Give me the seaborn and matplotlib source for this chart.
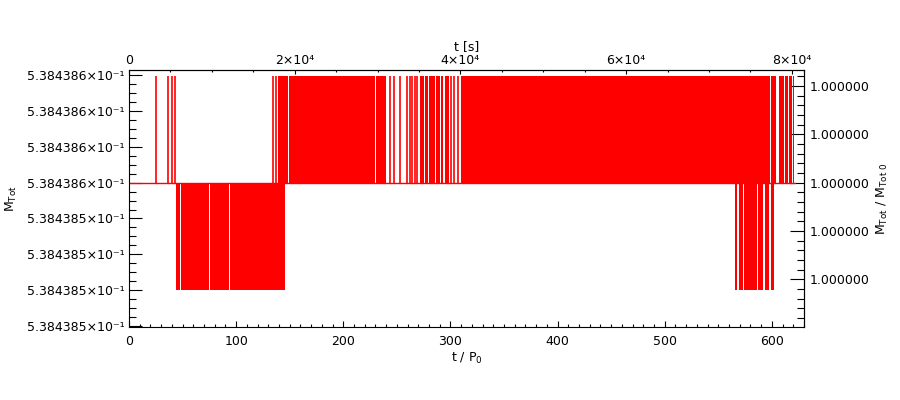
import numpy as np
import pandas as pd
import matplotlib
matplotlib.use("Agg")
import matplotlib.pyplot as plt
import seaborn as sns
from matplotlib.ticker import MultipleLocator, FixedLocator, FuncFormatter

# ******************* values
M0 = 0.53843856      # baseline total mass
dM = 5.96e-8         # one float32 step above / below the baseline
P0 = 129.3           # period in s, t[s] = (t/P0) * P0
t_end = 621.5        # last sample, in t/P0

# single short jumps to the upper level (t / P0)
up_spikes = [25.4, 36.7, 40.4, 43.2, 134.2, 137.3, 243.7, 247.0, 253.2,
             259.6, 261.9, 264.2, 266.8, 268.6, 300.1, 303.5, 306.9]

# stretches where the mass flickers between baseline and upper level
up_start = [139.1, 149.6, 153.5, 230.6, 272.0, 276.0, 280.0, 286.5, 291.5,
            294.5, 309.7, 599.4, 606.6, 612.5, 616.2, 619.4]
up_end = [148.6, 152.7, 229.4, 239.4, 275.0, 279.0, 285.5, 290.5, 293.5,
          298.6, 598.2, 603.6, 611.3, 614.7, 618.5, 620.9]

# stretches where it flickers between baseline and lower level
down_start = [44.3, 48.2, 75.3, 94.3, 565.5, 569.3, 574.0, 587.3, 593.6, 599.4]
down_end = [47.2, 74.4, 93.3, 145.4, 567.7, 572.7, 586.4, 591.4, 597.3, 601.7]

# tick labels of the top axis, in s
top_ticks = [0, 2e4, 4e4, 6e4, 8e4]

# ******************* plot
sns.set_style("ticks")
plt.rcParams["font.family"] = ["DejaVu Sans"]
plt.rcParams["mathtext.default"] = "regular"
plt.rcParams["axes.linewidth"] = 0.8
for key in ["text.color", "axes.labelcolor", "xtick.color", "ytick.color",
            "axes.edgecolor"]:
    plt.rcParams[key] = "black"
fs = 9

fig = plt.figure(figsize=(9, 4), dpi=100)
ax = fig.add_axes([129 / 900, 73 / 400, 675 / 900, 257 / 400])

base = pd.DataFrame({"t": [0, t_end], "M": [M0, M0]})
sns.lineplot(data=base, x="t", y="M", color="red", linewidth=1.0, ax=ax)

ax.bar(up_start, dM, width=np.subtract(up_end, up_start), bottom=M0,
       align="edge", color="red", linewidth=0)
ax.bar(down_start, dM, width=np.subtract(down_end, down_start), bottom=M0 - dM,
       align="edge", color="red", linewidth=0)
ax.vlines(up_spikes, M0, M0 + dM, color="red", linewidth=1.2)

ax.set_xlim(0, 630)
ax.set_ylim(M0 - 8.05e-8, M0 + 6.28e-8)

# bottom axis
ax.xaxis.set_major_locator(MultipleLocator(100))
ax.xaxis.set_minor_locator(MultipleLocator(10))
ax.tick_params(axis="x", which="major", direction="in", length=4, width=0.8,
               labelsize=fs, pad=6, top=False)
ax.tick_params(axis="x", which="minor", direction="in", length=2.2, width=0.8,
               top=False)
ax.set_xlabel("t / P$_0$", fontsize=fs, labelpad=2)

# left axis
ax.yaxis.set_major_locator(MultipleLocator(2e-8))
ax.yaxis.set_minor_locator(MultipleLocator(5e-9))
ax.yaxis.set_major_formatter(FuncFormatter(lambda v, p: f"{v * 10:.6f}×10⁻¹"))
ax.tick_params(axis="y", which="major", direction="in", length=9.5, width=0.8,
               labelsize=fs, pad=3, right=False)
ax.tick_params(axis="y", which="minor", direction="in", length=5, width=0.8,
               right=False)
ax.set_ylabel("M$_{Tot}$", fontsize=fs, labelpad=6)

# top axis in seconds
top = ax.secondary_xaxis("top", functions=(lambda t: t * P0, lambda s: s / P0))
top.xaxis.set_major_locator(FixedLocator(top_ticks))
top.xaxis.set_minor_locator(MultipleLocator(5e3))
top.xaxis.set_major_formatter(FuncFormatter(
    lambda v, p: "0" if abs(v) < 1 else f"{v / 1e4:.0f}×10⁴"))
top.tick_params(which="major", direction="in", length=3, width=0.8,
                labelsize=fs, pad=2)
top.tick_params(which="minor", direction="in", length=1.6, width=0.8)
top.set_xlabel("t [s]", fontsize=fs, labelpad=3)

# right axis relative to the initial mass
right = ax.secondary_yaxis("right", functions=(lambda m: m / M0, lambda r: r * M0))
right.yaxis.set_major_locator(MultipleLocator(5e-8))
right.yaxis.set_minor_locator(MultipleLocator(1e-8))
right.yaxis.set_major_formatter(FuncFormatter(lambda v, p: f"{v:.6f}"))
right.tick_params(which="major", direction="in", length=10, width=0.8,
                  labelsize=fs, pad=4)
right.tick_params(which="minor", direction="in", length=5, width=0.8)
right.set_ylabel("M$_{Tot}$ / M$_{Tot\\ 0}$", fontsize=fs, labelpad=4)

plt.savefig("out.png", dpi=100)
